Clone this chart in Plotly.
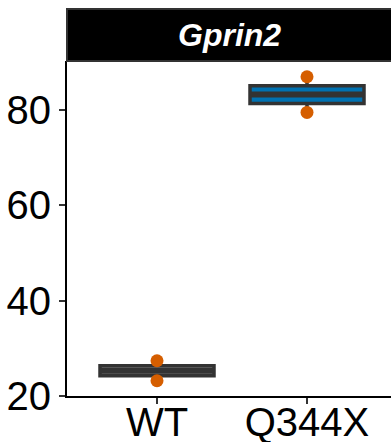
import numpy as np
import plotly.graph_objects as go

# Gprin2 expression per genotype (two replicates each)
genotypes = ["WT", "Q344X"]
wt_values = [27.4, 23.2]
q344x_values = [87.0, 79.5]
box_fills = ["#999999", "#0072B2"]
point_color = "#D55E00"
gene = "Gprin2"
y_ticks = [20, 40, 60, 80]

BOX_W = 0.76
EDGE = "#333333"

fig = go.Figure()

for i, (name, vals, fill) in enumerate(zip(genotypes, [wt_values, q344x_values], box_fills)):
    pos = i + 1
    v = np.array(vals)
    q1, med, q3 = np.percentile(v, [25, 50, 75])
    fig.add_trace(go.Box(
        x=[pos], q1=[q1], median=[med], q3=[q3],
        lowerfence=[v.min()], upperfence=[v.max()],
        fillcolor=fill, line=dict(color=EDGE, width=3.5),
        whiskerwidth=0, width=BOX_W, boxpoints=False,
        showlegend=False, hoverinfo="skip",
    ))
    # heavier median bar
    fig.add_trace(go.Scatter(
        x=[pos - BOX_W / 2, pos + BOX_W / 2], y=[med, med], mode="lines",
        line=dict(color=EDGE, width=6), showlegend=False, hoverinfo="skip",
    ))
    fig.add_trace(go.Scatter(
        x=[pos] * len(vals), y=vals, mode="markers",
        marker=dict(color=point_color, size=13, line=dict(width=0)),
        showlegend=False,
    ))

# facet strip
fig.add_shape(type="rect", xref="paper", yref="paper",
              x0=0, x1=1.02, y0=1.0, y1=1.155,
              fillcolor="black", line=dict(color=EDGE, width=2))
fig.add_annotation(text=f"<b><i>{gene}</i></b>", xref="paper", yref="paper",
                   x=0.5, y=1.0776, yanchor="middle", showarrow=False,
                   font=dict(family="Liberation Sans, Arial", size=32, color="white"))

fig.update_layout(
    width=391, height=442,
    margin=dict(l=67, r=0, t=61, b=46, autoexpand=False),
    paper_bgcolor="white", plot_bgcolor="white",
    font=dict(family="Liberation Sans, Arial", color="black"),
)
fig.update_xaxes(
    range=[0.4, 2.56], tickvals=[1, 2], ticktext=genotypes,
    showgrid=False, zeroline=False, automargin=False,
    showline=True, linecolor="black", linewidth=2,
    ticks="outside", ticklen=6, tickwidth=2, tickcolor=EDGE,
    ticklabelstandoff=-16,
    tickfont=dict(size=40, color="black"),
)
fig.update_yaxes(
    range=[20, 90.3], tickvals=y_ticks, showgrid=False, zeroline=False,
    automargin=False,
    showline=True, linecolor="black", linewidth=2,
    ticks="outside", ticklen=6, tickwidth=2, tickcolor=EDGE,
    tickfont=dict(size=40, color="black"),
)

fig.write_html("out.html")
